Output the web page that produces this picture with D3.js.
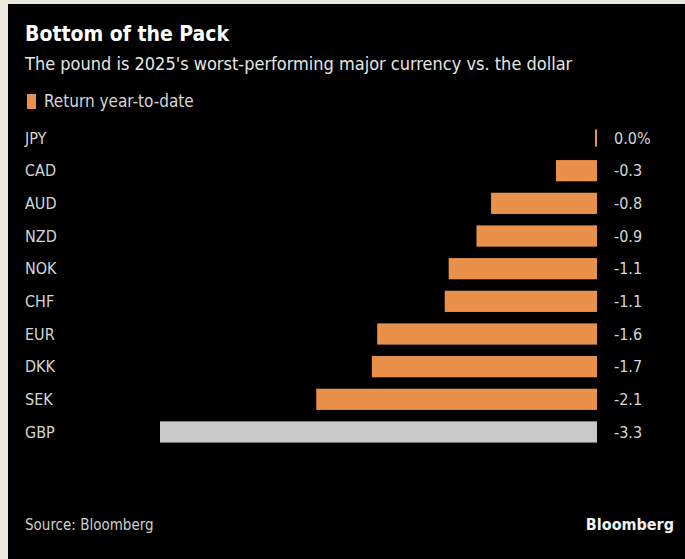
<!DOCTYPE html>
<html>
<head>
<meta charset="utf-8">
<script src="https://cdn.jsdelivr.net/npm/d3@7"></script>
<style>
  body { margin: 0; background: #ebe9dd; }
  svg { display: block; }
  text { font-family: "DejaVu Sans Condensed", "DejaVu Sans", sans-serif; }
</style>
</head>
<body>
<script>
// data (bar lengths, labels as printed)
let currencies = ['JPY', 'CAD', 'AUD', 'NZD', 'NOK', 'CHF', 'EUR', 'DKK', 'SEK', 'GBP'];
let returns = [0.0, -0.31, -0.80, -0.91, -1.12, -1.15, -1.66, -1.70, -2.12, -3.3];
let valueLabels = ['0.0%', '-0.3', '-0.8', '-0.9', '-1.1', '-1.1', '-1.6', '-1.7', '-2.1', '-3.3'];

let width = 685;
let height = 559;
let orange = '#e9914b';
let grey = '#c9c9c9';
let labelColor = '#d6d6d6';

let svg = d3.select('body').append('svg')
  .attr('width', width)
  .attr('height', height);

// black panel
svg.append('rect')
  .attr('x', 8).attr('y', 4)
  .attr('width', width - 8).attr('height', height - 4)
  .attr('fill', '#000');

// titles
svg.append('text')
  .attr('x', 25).attr('y', 41)
  .attr('fill', '#fff')
  .style('font-size', '21px')
  .style('font-weight', 'bold')
  .text('Bottom of the Pack');

svg.append('text')
  .attr('x', 25).attr('y', 70)
  .attr('fill', '#e6e6e6')
  .style('font-size', '18px')
  .text("The pound is 2025's worst-performing major currency vs. the dollar");

// legend
svg.append('rect')
  .attr('x', 27).attr('y', 94)
  .attr('width', 9).attr('height', 15)
  .attr('fill', orange);
svg.append('text')
  .attr('x', 44).attr('y', 107)
  .attr('fill', labelColor)
  .style('font-size', '17px')
  .text('Return year-to-date');

// scales
let x = d3.scaleLinear()
  .domain([-3.3, 0])
  .range([160, 597]);

let y = d3.scaleBand()
  .domain(currencies)
  .range([121.7, 448.3])
  .paddingInner(0.35)
  .paddingOuter(0.175);

let rows = currencies.map((c, i) => ({ name: c, value: returns[i], label: valueLabels[i] }));

// bars
svg.selectAll('.bar')
  .data(rows)
  .enter()
  .append('rect')
  .attr('class', 'bar')
  .attr('x', d => d.value === 0 ? x(0) - 2 : x(d.value))
  .attr('y', d => d.value === 0 ? y(d.name) + 2 : y(d.name))
  .attr('width', d => d.value === 0 ? 2 : x(0) - x(d.value))
  .attr('height', d => d.value === 0 ? y.bandwidth() - 4 : y.bandwidth())
  .attr('fill', d => d.name === 'GBP' ? grey : orange);

// category labels
svg.selectAll('.cat')
  .data(rows)
  .enter()
  .append('text')
  .attr('class', 'cat')
  .attr('x', 25)
  .attr('y', d => y(d.name) + y.bandwidth() / 2)
  .attr('dy', '0.35em')
  .attr('fill', labelColor)
  .style('font-size', '16px')
  .text(d => d.name);

// value labels
svg.selectAll('.val')
  .data(rows)
  .enter()
  .append('text')
  .attr('class', 'val')
  .attr('x', 614)
  .attr('y', d => y(d.name) + y.bandwidth() / 2)
  .attr('dy', '0.35em')
  .attr('fill', labelColor)
  .style('font-size', '16px')
  .text(d => d.label);

// footer
svg.append('text')
  .attr('x', 25).attr('y', 530)
  .attr('fill', '#cfcfcf')
  .style('font-size', '15px')
  .text('Source: Bloomberg');

svg.append('text')
  .attr('x', 674).attr('y', 530)
  .attr('text-anchor', 'end')
  .attr('fill', '#f0f0f0')
  .style('font-size', '16px')
  .style('font-weight', 'bold')
  .text('Bloomberg');
</script>
</body>
</html>
